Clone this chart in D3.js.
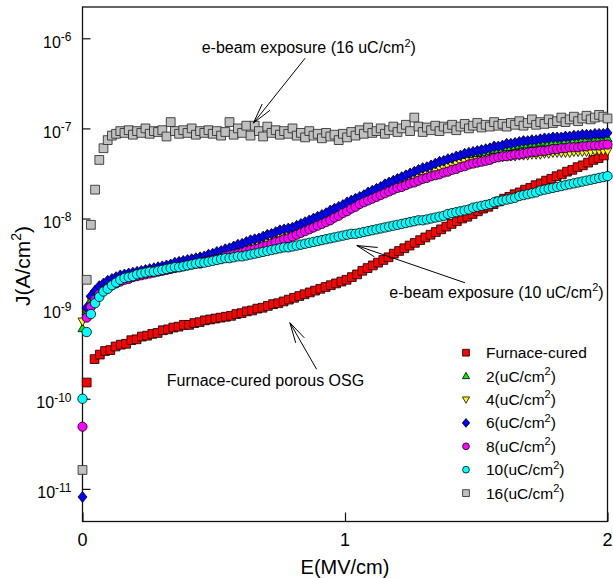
<!DOCTYPE html>
<html><head><meta charset="utf-8">
<script src="https://cdn.jsdelivr.net/npm/d3@7"></script>
<style>body{margin:0;background:#fff} svg text{font-family:"Liberation Sans",Arial,Helvetica,sans-serif;fill:#000}</style>
</head><body><svg id="c" width="613" height="578"></svg>
<script>
// ---------------- DATA (log10 of J in A/cm^2) ----------------
const E_furnace = [0.016].concat(d3.range(98).map(i => +(0.046 + 0.02 * i).toFixed(3)));
const E_ebeam = d3.range(126).map(k => +(0.016 * k).toFixed(3));

const logJ_furnace = [-9.82,
-9.56,-9.51,-9.47,-9.46,-9.42,-9.40,-9.39,-9.35,-9.34,-9.31,
-9.30,-9.28,-9.27,-9.24,-9.23,-9.21,-9.20,-9.18,-9.18,-9.16,
-9.15,-9.13,-9.12,-9.11,-9.10,-9.09,-9.08,-9.06,-9.05,-9.03,
-9.02,-9.00,-8.99,-8.97,-8.95,-8.94,-8.92,-8.90,-8.88,-8.86,
-8.84,-8.82,-8.80,-8.78,-8.76,-8.74,-8.72,-8.70,-8.68,-8.65,
-8.62,-8.58,-8.55,-8.52,-8.49,-8.46,-8.43,-8.39,-8.36,-8.33,
-8.30,-8.27,-8.24,-8.21,-8.18,-8.15,-8.12,-8.09,-8.06,-8.03,
-8.00,-7.98,-7.95,-7.92,-7.89,-7.87,-7.84,-7.81,-7.78,-7.76,
-7.73,-7.71,-7.68,-7.66,-7.63,-7.61,-7.58,-7.56,-7.53,-7.51,
-7.48,-7.46,-7.43,-7.41,-7.38,-7.35,-7.33,-7.30];

const logJ_2uC = [
-9.22,-9.03,-8.90,-8.83,-8.78,-8.75,-8.72,-8.70,-8.68,-8.66,
-8.65,-8.64,-8.63,-8.62,-8.61,-8.60,-8.59,-8.58,-8.57,-8.56,
-8.55,-8.54,-8.52,-8.51,-8.50,-8.49,-8.48,-8.47,-8.46,-8.45,
-8.43,-8.42,-8.40,-8.39,-8.37,-8.36,-8.34,-8.32,-8.31,-8.29,
-8.27,-8.26,-8.25,-8.23,-8.21,-8.20,-8.18,-8.16,-8.15,-8.14,
-8.13,-8.11,-8.09,-8.07,-8.05,-8.03,-8.01,-7.99,-7.97,-7.94,
-7.92,-7.90,-7.88,-7.85,-7.83,-7.81,-7.79,-7.77,-7.74,-7.72,
-7.70,-7.68,-7.65,-7.63,-7.61,-7.59,-7.57,-7.55,-7.53,-7.51,
-7.49,-7.47,-7.46,-7.44,-7.42,-7.40,-7.39,-7.37,-7.36,-7.34,
-7.33,-7.31,-7.30,-7.29,-7.28,-7.27,-7.27,-7.26,-7.24,-7.24,
-7.23,-7.21,-7.21,-7.20,-7.19,-7.18,-7.18,-7.17,-7.17,-7.16,
-7.15,-7.16,-7.15,-7.15,-7.15,-7.14,-7.14,-7.13,-7.13,-7.12,
-7.12,-7.13,-7.12,-7.12,-7.12,-7.11];

const logJ_4uC = [
-9.14,-9.03,-8.90,-8.84,-8.79,-8.76,-8.73,-8.71,-8.69,-8.67,
-8.66,-8.65,-8.64,-8.63,-8.62,-8.61,-8.60,-8.59,-8.58,-8.57,
-8.56,-8.56,-8.54,-8.53,-8.52,-8.51,-8.50,-8.49,-8.48,-8.47,
-8.45,-8.44,-8.42,-8.41,-8.39,-8.38,-8.36,-8.34,-8.33,-8.31,
-8.30,-8.30,-8.29,-8.27,-8.25,-8.24,-8.22,-8.20,-8.19,-8.18,
-8.17,-8.15,-8.13,-8.11,-8.09,-8.07,-8.05,-8.03,-8.01,-7.98,
-7.96,-7.94,-7.92,-7.89,-7.87,-7.85,-7.83,-7.81,-7.78,-7.76,
-7.74,-7.72,-7.69,-7.67,-7.65,-7.63,-7.61,-7.59,-7.57,-7.55,
-7.53,-7.51,-7.50,-7.48,-7.46,-7.44,-7.44,-7.42,-7.41,-7.39,
-7.38,-7.37,-7.36,-7.36,-7.35,-7.35,-7.34,-7.33,-7.32,-7.32,
-7.32,-7.31,-7.31,-7.31,-7.30,-7.30,-7.30,-7.29,-7.29,-7.29,
-7.28,-7.28,-7.27,-7.27,-7.27,-7.27,-7.27,-7.26,-7.26,-7.26,
-7.26,-7.26,-7.25,-7.25,-7.25,-7.25];

const logJ_6uC = [
-11.09,-8.99,-8.86,-8.80,-8.75,-8.72,-8.69,-8.67,-8.65,-8.63,
-8.62,-8.61,-8.60,-8.59,-8.58,-8.57,-8.56,-8.55,-8.54,-8.53,
-8.52,-8.51,-8.49,-8.48,-8.47,-8.46,-8.45,-8.44,-8.43,-8.42,
-8.40,-8.39,-8.37,-8.36,-8.34,-8.33,-8.31,-8.29,-8.28,-8.26,
-8.24,-8.23,-8.22,-8.20,-8.18,-8.17,-8.15,-8.13,-8.12,-8.11,
-8.10,-8.08,-8.06,-8.04,-8.02,-8.00,-7.98,-7.96,-7.94,-7.91,
-7.89,-7.87,-7.85,-7.82,-7.80,-7.78,-7.76,-7.74,-7.71,-7.69,
-7.67,-7.65,-7.62,-7.60,-7.58,-7.56,-7.54,-7.52,-7.50,-7.48,
-7.46,-7.44,-7.43,-7.41,-7.39,-7.37,-7.36,-7.34,-7.33,-7.31,
-7.30,-7.28,-7.27,-7.26,-7.25,-7.24,-7.23,-7.22,-7.20,-7.20,
-7.19,-7.17,-7.17,-7.16,-7.15,-7.14,-7.14,-7.13,-7.13,-7.12,
-7.11,-7.11,-7.10,-7.10,-7.10,-7.09,-7.09,-7.08,-7.08,-7.07,
-7.07,-7.07,-7.06,-7.06,-7.06,-7.05];

const logJ_8uC = [
-10.31,-9.10,-8.98,-8.90,-8.84,-8.80,-8.77,-8.74,-8.72,-8.70,
-8.68,-8.67,-8.65,-8.64,-8.63,-8.62,-8.61,-8.60,-8.59,-8.58,
-8.57,-8.56,-8.55,-8.54,-8.53,-8.52,-8.51,-8.50,-8.50,-8.48,
-8.47,-8.46,-8.45,-8.44,-8.42,-8.41,-8.40,-8.39,-8.38,-8.36,
-8.35,-8.34,-8.33,-8.31,-8.30,-8.28,-8.26,-8.25,-8.23,-8.22,
-8.20,-8.18,-8.16,-8.14,-8.12,-8.10,-8.08,-8.06,-8.04,-8.02,
-7.99,-7.97,-7.94,-7.92,-7.89,-7.87,-7.84,-7.82,-7.80,-7.78,
-7.76,-7.74,-7.72,-7.70,-7.68,-7.66,-7.65,-7.63,-7.61,-7.60,
-7.58,-7.56,-7.55,-7.53,-7.52,-7.51,-7.49,-7.48,-7.46,-7.45,
-7.43,-7.42,-7.40,-7.39,-7.38,-7.37,-7.36,-7.35,-7.33,-7.32,
-7.31,-7.31,-7.30,-7.29,-7.29,-7.28,-7.27,-7.26,-7.26,-7.25,
-7.25,-7.24,-7.23,-7.23,-7.22,-7.22,-7.21,-7.21,-7.21,-7.20,
-7.20,-7.19,-7.19,-7.19,-7.18,-7.18];

const logJ_10uC = [
-10.00,-9.26,-9.06,-8.94,-8.87,-8.81,-8.78,-8.74,-8.71,-8.68,
-8.66,-8.65,-8.64,-8.62,-8.61,-8.60,-8.59,-8.59,-8.58,-8.57,
-8.56,-8.55,-8.54,-8.54,-8.53,-8.52,-8.51,-8.50,-8.49,-8.49,
-8.48,-8.47,-8.46,-8.45,-8.44,-8.44,-8.43,-8.42,-8.42,-8.41,
-8.40,-8.39,-8.38,-8.37,-8.36,-8.35,-8.34,-8.33,-8.32,-8.32,
-8.31,-8.30,-8.29,-8.28,-8.27,-8.26,-8.25,-8.24,-8.23,-8.22,
-8.21,-8.20,-8.19,-8.18,-8.17,-8.17,-8.16,-8.15,-8.14,-8.13,
-8.12,-8.11,-8.10,-8.09,-8.08,-8.07,-8.06,-8.05,-8.04,-8.03,
-8.02,-8.02,-8.01,-8.00,-7.99,-7.98,-7.97,-7.95,-7.94,-7.93,
-7.92,-7.91,-7.90,-7.88,-7.87,-7.86,-7.85,-7.84,-7.82,-7.81,
-7.80,-7.79,-7.78,-7.77,-7.75,-7.74,-7.73,-7.72,-7.71,-7.69,
-7.68,-7.67,-7.66,-7.65,-7.64,-7.63,-7.62,-7.61,-7.60,-7.59,
-7.58,-7.57,-7.56,-7.55,-7.54,-7.53];

const logJ_16uC = [
-10.79,-8.68,-8.07,-7.68,-7.35,-7.22,-7.13,-7.08,-7.06,-7.03,
-7.05,-7.02,-7.07,-7.03,-7.05,-7.00,-7.06,-7.03,-7.04,-7.02,
-7.09,-6.93,-7.03,-7.06,-7.02,-7.05,-7.00,-7.07,-7.03,-7.05,
-7.02,-7.06,-7.03,-7.08,-7.04,-6.93,-7.07,-7.00,-7.05,-6.97,
-7.08,-6.97,-7.03,-7.09,-6.98,-7.05,-7.02,-7.07,-7.03,-7.06,
-7.00,-7.08,-7.05,-7.10,-7.03,-7.08,-7.06,-7.11,-7.05,-7.09,
-7.07,-7.13,-7.06,-7.10,-7.04,-7.08,-7.02,-7.06,-6.99,-7.05,
-7.03,-7.00,-7.06,-7.02,-6.98,-7.04,-7.00,-6.96,-7.03,-6.88,
-6.98,-7.04,-6.99,-7.02,-6.97,-7.03,-6.98,-7.00,-6.96,-7.02,
-6.98,-6.95,-7.00,-6.97,-6.94,-6.99,-6.96,-6.98,-6.93,-6.97,
-6.95,-6.98,-6.94,-6.96,-6.92,-6.97,-6.94,-6.90,-6.96,-6.93,
-6.95,-6.90,-6.94,-6.92,-6.88,-6.93,-6.90,-6.87,-6.92,-6.89,
-6.86,-6.90,-6.88,-6.85,-6.87,-6.89];

const xTicks = [0, 1, 2];
const yTickExps = [-11, -10, -9, -8, -7, -6];
const legendNames = ["Furnace-cured", "2", "4", "6", "8", "10", "16"];
// annotations: [text-start E, text log J, arrow tail E, tail logJ, tip E, tip logJ]
const ann16 = [0.454, -6.166, 0.848, -6.221, 0.651, -6.941];
const ann10 = [1.169, -8.879, 1.457, -8.713, 1.045, -8.300];
const annF  = [0.321, -9.858, 0.892, -9.673, 0.790, -9.156];

// ---------------- CHART ----------------
const svg = d3.select("#c");
const x = d3.scaleLinear().domain([0, 2]).range([82.5, 607.5]);
const y = d3.scaleLog().domain([Math.pow(10, -11.362), Math.pow(10, -5.653)]).range([521.5, 7]);
const FONT = '"Liberation Sans",Arial,sans-serif';

// frame
svg.append("rect").attr("x", 82.5).attr("y", 7).attr("width", 525).attr("height", 514.5)
  .attr("fill", "none").attr("stroke", "#111").attr("stroke-width", 1.3);

// axes (ticks inward)
const yAx = svg.append("g").attr("transform", "translate(82.5,0)")
  .call(d3.axisLeft(y).tickValues(yTickExps.map(e => Math.pow(10, e))).tickSize(-8).tickFormat(""));
const xAx = svg.append("g").attr("transform", "translate(0,521.5)")
  .call(d3.axisBottom(x).tickValues(xTicks).tickSize(-9).tickFormat(""));
[yAx, xAx].forEach(g => { g.select(".domain").remove(); g.selectAll("line").attr("stroke", "#111").attr("stroke-width", 1.2); });

// helper for rich text with superscripts
function rich(sel, parts, size, supSize) {
  parts.forEach(([s, sup], i) => {
    const prevSup = i > 0 && parts[i - 1][1];
    const t = sel.append("tspan").text(s).attr("font-size", sup ? supSize : size);
    if (sup) t.attr("dy", -size * 0.42);
    else if (prevSup) t.attr("dy", size * 0.42);
  });
  return sel;
}

// y tick labels
yTickExps.forEach(e => {
  const t = svg.append("text").attr("x", 71.5).attr("y", y(Math.pow(10, e)) + 9.5)
    .attr("text-anchor", "end").attr("font-family", FONT);
  rich(t, [["10", false], [String(e), true]], 16, 12);
});
// x tick labels
xTicks.forEach(v => {
  svg.append("text").attr("x", x(v)).attr("y", 546).attr("text-anchor", "middle")
    .attr("font-size", 18).attr("font-family", FONT).text(v);
});
// axis titles
svg.append("text").attr("x", 345).attr("y", 574).attr("text-anchor", "middle")
  .attr("font-size", 20).attr("font-family", FONT).text("E(MV/cm)");
const yt = svg.append("text").attr("transform", "translate(30,266) rotate(-90)")
  .attr("text-anchor", "middle").attr("font-family", FONT);
rich(yt, [["J(A/cm", false], ["2", true], [")", false]], 21, 14);

// marker shapes
function shape(type, s) {
  switch (type) {
    case "square": return `M${-s},${-s}H${s}V${s}H${-s}Z`;
    case "tri": return `M0,${-s * 1.1}L${s * 1.05},${s * 0.75}L${-s * 1.05},${s * 0.75}Z`;
    case "triDown": return `M0,${s * 1.1}L${s * 1.05},${-s * 0.75}L${-s * 1.05},${-s * 0.75}Z`;
    case "diamond": return `M0,${-s * 1.2}L${s},0L0,${s * 1.2}L${-s},0Z`;
    case "circle": return d3.arc()({innerRadius: 0, outerRadius: s, startAngle: 0, endAngle: 2 * Math.PI});
  }
}

const series = [
  {E: E_furnace, L: logJ_furnace, fill: "#ff0000", stroke: "#000", type: "square", s: 4.4},
  {E: E_ebeam, L: logJ_2uC, fill: "#00ee00", stroke: "#000", type: "tri", s: 4.3},
  {E: E_ebeam, L: logJ_4uC, fill: "#ffff00", stroke: "#000", type: "triDown", s: 4.3},
  {E: E_ebeam, L: logJ_6uC, fill: "#0000ff", stroke: "#000", type: "diamond", s: 4.5},
  {E: E_ebeam, L: logJ_8uC, fill: "#ff00ff", stroke: "#000", type: "circle", s: 4.6},
  {E: E_ebeam, L: logJ_10uC, fill: "#00ffff", stroke: "#000", type: "circle", s: 4.7},
  {E: E_ebeam, L: logJ_16uC, fill: "#c0c0c0", stroke: "#222", type: "square", s: 4.4}
];

series.forEach(sr => {
  const pts = sr.L.map((l, i) => [sr.E[i], Math.pow(10, l)]);
  svg.append("g").selectAll("path").data(pts).join("path")
    .attr("d", shape(sr.type, sr.s))
    .attr("transform", d => `translate(${x(d[0])},${y(d[1])})`)
    .attr("fill", sr.fill).attr("stroke", sr.stroke).attr("stroke-width", 0.8);
});

// annotations
function arrow(a) {
  const x1 = x(a[2]), y1 = y(Math.pow(10, a[3])), x2 = x(a[4]), y2 = y(Math.pow(10, a[5]));
  const ang = Math.atan2(y2 - y1, x2 - x1), L = 21, h = 0.24;
  const p = [[x2 - L * Math.cos(ang - h), y2 - L * Math.sin(ang - h)], [x2 - L * Math.cos(ang + h), y2 - L * Math.sin(ang + h)]];
  svg.append("path").attr("d", `M${x1},${y1}L${x2},${y2}M${p[0][0]},${p[0][1]}L${x2},${y2}L${p[1][0]},${p[1][1]}`)
    .attr("fill", "none").attr("stroke", "#000").attr("stroke-width", 1);
}
[ann16, ann10, annF].forEach(arrow);
function annText(a, parts) {
  const t = svg.append("text").attr("x", x(a[0])).attr("y", y(Math.pow(10, a[1]))).attr("font-family", FONT);
  rich(t, parts, 16, 11);
}
annText(ann16, [["e-beam exposure (16 uC/cm", false], ["2", true], [")", false]]);
annText(ann10, [["e-beam exposure (10 uC/cm", false], ["2", true], [")", false]]);
annText(annF, [["Furnace-cured porous OSG", false]]);

// legend
const legY0 = 352.7, legDY = 23.4;
series.forEach((sr, i) => {
  const cy = legY0 + i * legDY;
  svg.append("path").attr("d", shape(sr.type, sr.type === "diamond" ? 3.7 : 3.4))
    .attr("transform", `translate(466,${cy})`)
    .attr("fill", sr.fill).attr("stroke", sr.stroke).attr("stroke-width", 0.8);
  const t = svg.append("text").attr("x", 486).attr("y", cy + 5.5).attr("font-family", FONT);
  if (i === 0) rich(t, [[legendNames[0], false]], 15.5, 11);
  else rich(t, [[legendNames[i] + "(uC/cm", false], ["2", true], [")", false]], 15.5, 11);
});
</script></body></html>
